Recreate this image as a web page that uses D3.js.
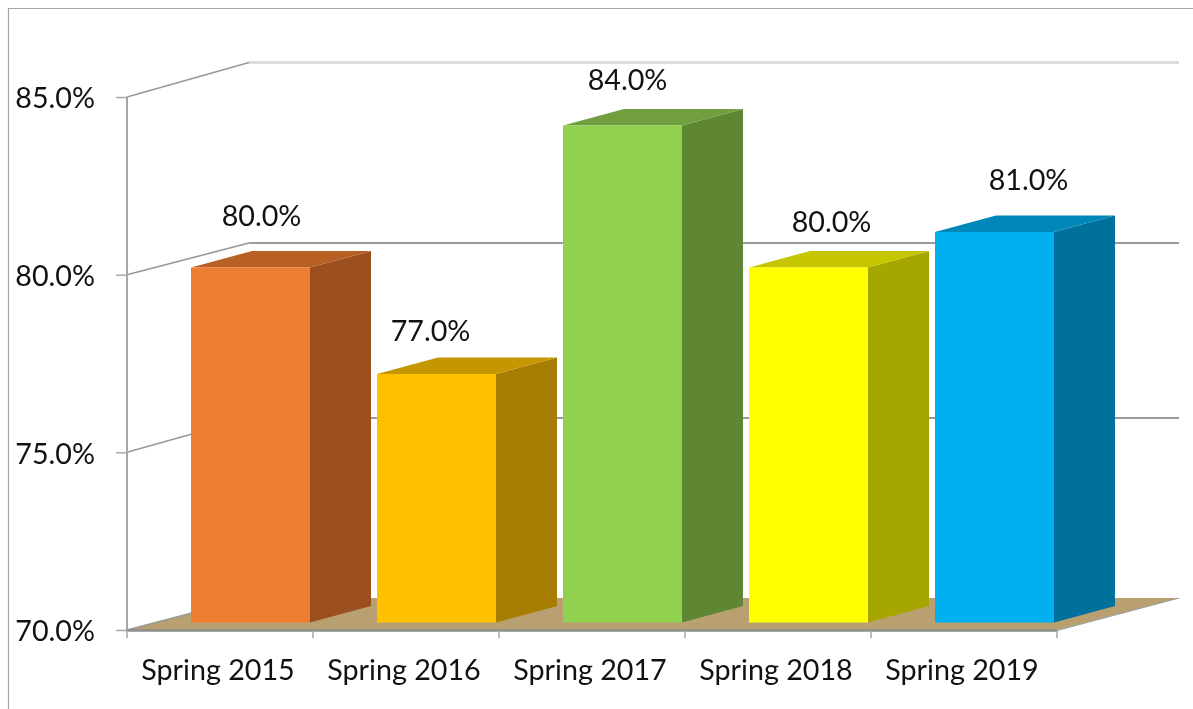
<!DOCTYPE html>
<html><head><meta charset="utf-8">
<script src="https://cdn.jsdelivr.net/npm/d3@7"></script>
<style>html,body{margin:0;padding:0;background:#fff;overflow:hidden}svg{display:block;filter:blur(0.45px)}text{font-family:Lato,"Noto Sans",sans-serif;fill:#111}</style>
</head><body><svg id="c" width="1193" height="709"></svg>
<script>
const categories = ["Spring 2015","Spring 2016","Spring 2017","Spring 2018","Spring 2019"];
const values = [80,77,84,80,81];
const yTicks = [70,75,80,85];
const frontColors = ["#ED7D31","#FFC000","#92D050","#FFFF00","#00B0F0"];
const sideColors = ["#9C4F1E","#A67D00","#5F8733","#A6A600","#00719C"];
const topColors = ["#B85F24","#C59600","#719F3E","#C5C500","#0087B9"];

const svg = d3.select("#c");
const fs = 28.7;
const depthX = 122;
const barDepth = {x:61, y:-16.5};
const x = d3.scaleBand().domain(categories).range([127,1057]);
const yAxis = d3.scaleLinear().domain([70,85]).range([630,97]);
const yBar = d3.scaleLinear().domain([70,85]).range([622.5,90]);
const yWall = d3.scaleLinear().domain(yTicks).range([598,418,243,62.5]);
const barW = 119, barOff = 64;
const labelNudge = [11,-6,5,23,34];
const labelLift = [42,33,36,36,42];
const pts = a => a.map(p=>p.join(",")).join(" ");

// outer frame
svg.append("path").attr("d","M8.5,709V8.5H1193").attr("fill","none").attr("stroke","#a6a6a6").attr("stroke-width",1.2);

// floor
const x0=x.range()[0], x1=x.range()[1], y70=yAxis(70);
svg.append("polygon").attr("points",pts([[x0,y70],[x0+depthX,yWall(70)],[x1+depthX,yWall(70)],[x1,y70]])).attr("fill","#B8A071");

// grid lines: wall + side wall
yTicks.forEach(t=>{
  const top = t===85;
  if(t>70){
    svg.append("line").attr("x1",x0+depthX).attr("x2",x1+depthX).attr("y1",yWall(t)).attr("y2",yWall(t))
      .attr("stroke",top?"#dcdcdc":"#9a9a9a").attr("stroke-width",top?3:2);
  }
  svg.append("line").attr("x1",x0).attr("y1",yAxis(t)).attr("x2",x0+depthX).attr("y2",yWall(t)).attr("stroke","#999").attr("stroke-width",1.6);
});

// axis lines and ticks
svg.append("line").attr("x1",x0).attr("x2",x0).attr("y1",yAxis(85)).attr("y2",y70).attr("stroke","#a6a6a6").attr("stroke-width",2);
svg.append("line").attr("x1",x0).attr("x2",x1).attr("y1",y70+0.5).attr("y2",y70+0.5).attr("stroke","#8c8c8c").attr("stroke-width",2.5);
svg.append("line").attr("x1",x1).attr("y1",y70+0.5).attr("x2",x1+depthX).attr("y2",yWall(70)).attr("stroke","#999").attr("stroke-width",1.2);

const yAxisG = svg.append("g").attr("transform",`translate(${x0},0)`).call(d3.axisLeft(yAxis).tickValues(yTicks).tickSize(11).tickPadding(21).tickFormat(d=>d.toFixed(1)+"%"));
yAxisG.select(".domain").remove();
yAxisG.selectAll("line").attr("stroke","#a6a6a6").attr("stroke-width",1.5);
yAxisG.selectAll("text").attr("font-size",fs).attr("dy","0.38em").attr("x",-32).style("font-family",'Lato,"Noto Sans",sans-serif').style("fill","#111");

const xAxisG = svg.append("g").attr("transform",`translate(0,${y70})`).call(d3.axisBottom(x).tickSize(0).tickPadding(0));
xAxisG.select(".domain").remove();
xAxisG.selectAll("line").remove();
xAxisG.selectAll("text").attr("font-size",fs).attr("y",50).attr("dy",0).style("font-family",'Lato,"Noto Sans",sans-serif').style("fill","#111").attr("text-anchor","middle").attr("dx",-2);
svg.append("g").selectAll("line").data(categories.concat(["end"])).join("line")
  .attr("x1",d=>d==="end"?x1:x(d)).attr("x2",d=>d==="end"?x1:x(d)).attr("y1",y70).attr("y2",y70+8).attr("stroke","#a6a6a6").attr("stroke-width",1.5);

// bars
const bars = svg.append("g").selectAll("g").data(categories).join("g");
bars.each(function(c,i){
  const g=d3.select(this), l=x(c)+barOff, r=l+barW, t=yBar(values[i]), b=yBar(70);
  const dx=barDepth.x, dy=barDepth.y;
  g.append("polygon").attr("points",pts([[r,t],[r+dx,t+dy],[r+dx,b+dy],[r,b]])).attr("fill",sideColors[i]);
  g.append("polygon").attr("points",pts([[l,t],[l+dx,t+dy],[r+dx,t+dy],[r,t]])).attr("fill",topColors[i]);
  g.append("rect").attr("x",l).attr("y",t).attr("width",barW).attr("height",b-t).attr("fill",frontColors[i]);
  g.append("text").attr("x",l+barW/2+labelNudge[i]).attr("y",t-labelLift[i]).attr("text-anchor","middle").attr("font-size",fs).text(values[i].toFixed(1)+"%");
});
</script></body></html>
